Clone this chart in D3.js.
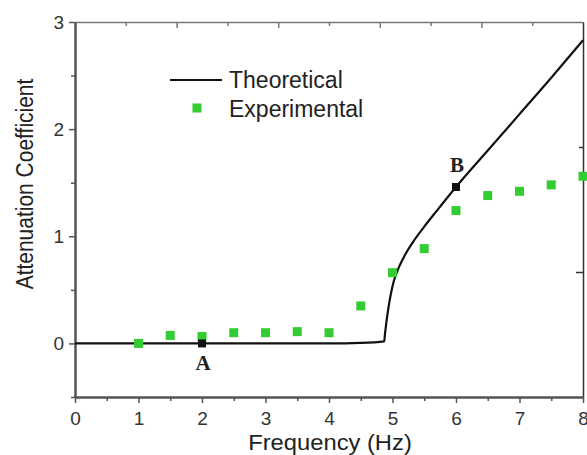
<!DOCTYPE html>
<html>
<head>
<meta charset="utf-8">
<script src="https://cdn.jsdelivr.net/npm/d3@7"></script>
<style>
body { margin: 0; background: #fff; }
</style>
</head>
<body>
<div id="container"></div>
<script>
// experimental points (green squares)
let expFreq = [1, 1.5, 2, 2.5, 3, 3.5, 4, 4.5, 5, 5.5, 6, 6.5, 7, 7.5, 8];
let expAtt  = [0.0, 0.075, 0.065, 0.10, 0.10, 0.11, 0.10, 0.35, 0.66, 0.885, 1.24, 1.38, 1.42, 1.48, 1.56];

// theoretical curve
let theoFreq = [0, 1, 2, 3, 4, 4.5, 4.87, 4.88, 4.9, 4.93, 4.97, 5.02, 5.1, 5.2, 5.35, 5.5, 5.7, 6, 6.5, 7, 7.5, 8];
let theoAtt  = [0, 0, 0, 0, 0, 0.005, 0.02, 0.08, 0.18, 0.31, 0.45, 0.58, 0.71, 0.83, 0.97, 1.09, 1.24, 1.46, 1.80, 2.14, 2.48, 2.83];

// marked points
let markLabels = ["A", "B"];
let markFreq = [2, 6];
let markAtt  = [0, 1.46];

let xTicks = [0, 1, 2, 3, 4, 5, 6, 7, 8];
let xMinor = [0.5, 1.5, 2.5, 3.5, 4.5, 5.5, 6.5, 7.5];
let yTicks = [0, 1, 2, 3];
let yMinor = [-0.5, 0.5, 1.5, 2.5];
let legendLabels = ["Theoretical", "Experimental"];
let xTitle = "Frequency (Hz)";
let yTitle = "Attenuation Coefficient";

let width = 587, height = 455;
let plotL = 75, plotR = 583, plotT = 22, plotB = 397;
let green = "#33cc33";
let sansFont = "Liberation Sans, Arial, sans-serif";

let svg = d3.select("#container").append("svg")
    .attr("width", width)
    .attr("height", height)
    .attr("font-family", sansFont);

let x = d3.scaleLinear().domain([0, 8]).range([plotL, plotR]);
let y = d3.scaleLinear().domain([-0.5, 3]).range([plotB, plotT]);
// unlabeled top / right frame scales
let xTop = d3.scaleLinear().domain([0, 10]).range([plotL, plotR]);
let yRight = d3.scaleLinear().domain([0, 3]).range([plotB, plotT]);

function styleAxis(g, col, w) {
    g.select(".domain").attr("stroke", col).attr("stroke-width", w);
    g.selectAll(".tick line").attr("stroke", col).attr("stroke-width", 1.5);
    g.attr("font-family", sansFont).attr("font-size", 19);
    g.selectAll("text").attr("fill", "#333");
}

// top frame
let gTop = svg.append("g").attr("transform", "translate(0," + plotT + ")")
    .call(d3.axisTop(xTop).tickValues(d3.range(1, 10)).tickSize(-6).tickSizeOuter(0).tickFormat(""));
gTop.selectAll(".tick line").attr("y2", function(d) { return d % 2 == 0 ? 6 : 4; });
styleAxis(gTop, "#777", 1.5);

// right frame
let gRight = svg.append("g").attr("transform", "translate(" + plotR + ",0)")
    .call(d3.axisRight(yRight).tickValues([1, 2]).tickSize(-6).tickSizeOuter(0).tickFormat(""));
gRight.selectAll(".tick line").attr("x2", function(d) { return d == 1 ? -7 : -4; });
styleAxis(gRight, "#333", 1.5);

// bottom axis
let gxMinor = svg.append("g").attr("transform", "translate(0," + plotB + ")")
    .call(d3.axisBottom(x).tickValues(xMinor).tickSize(4).tickSizeOuter(0).tickFormat(""));
styleAxis(gxMinor, "#555", 2);
let gx = svg.append("g").attr("transform", "translate(0," + plotB + ")")
    .call(d3.axisBottom(x).tickValues(xTicks).tickSize(6).tickSizeOuter(0).tickPadding(9).tickFormat(d3.format("d")));
styleAxis(gx, "#555", 2);

// left axis
let gyMinor = svg.append("g").attr("transform", "translate(" + plotL + ",0)")
    .call(d3.axisLeft(y).tickValues(yMinor).tickSize(4).tickSizeOuter(0).tickFormat(""));
styleAxis(gyMinor, "#555", 2);
let gy = svg.append("g").attr("transform", "translate(" + plotL + ",0)")
    .call(d3.axisLeft(y).tickValues(yTicks).tickSize(6).tickSizeOuter(0).tickPadding(5).tickFormat(d3.format("d")));
styleAxis(gy, "#555", 2);

// axis titles
svg.append("text")
    .attr("transform", "translate(330,450) scale(1.08,1)")
    .attr("text-anchor", "middle")
    .attr("font-size", 22)
    .attr("fill", "#222")
    .text(xTitle);
svg.append("text")
    .attr("transform", "translate(33,184) scale(1.15,1) rotate(-90)")
    .attr("text-anchor", "middle")
    .attr("font-size", 21)
    .attr("fill", "#222")
    .text(yTitle);

// theoretical curve
let theo = theoFreq.map(function(f, i) { return [f, theoAtt[i]]; });
let line = d3.line()
    .x(function(d) { return x(d[0]); })
    .y(function(d) { return y(d[1]); })
    .curve(d3.curveMonotoneX);
svg.append("path")
    .datum(theo)
    .attr("d", line)
    .attr("fill", "none")
    .attr("stroke", "#111")
    .attr("stroke-width", 2.2);

// experimental squares
let sq = 9;
svg.append("g").selectAll("rect")
    .data(expFreq)
    .join("rect")
    .attr("x", function(d) { return x(d) - sq / 2; })
    .attr("y", function(d, i) { return y(expAtt[i]) - sq / 2; })
    .attr("width", sq)
    .attr("height", sq)
    .attr("fill", green);

// A / B markers
let mk = 8;
let marks = svg.append("g").selectAll("g")
    .data(markFreq)
    .join("g");
marks.append("rect")
    .attr("x", function(d) { return x(d) - mk / 2; })
    .attr("y", function(d, i) { return y(markAtt[i]) - mk / 2; })
    .attr("width", mk)
    .attr("height", mk)
    .attr("fill", "#111");
marks.append("text")
    .attr("x", function(d) { return x(d) + 1; })
    .attr("y", function(d, i) { return i == 0 ? y(markAtt[i]) + 27 : y(markAtt[i]) - 15; })
    .attr("text-anchor", "middle")
    .attr("font-family", "Liberation Serif, Times New Roman, serif")
    .attr("font-weight", "bold")
    .attr("font-size", 21)
    .attr("fill", "#222")
    .text(function(d, i) { return markLabels[i]; });

// legend
let lg = svg.append("g");
lg.append("line")
    .attr("x1", 170).attr("x2", 222)
    .attr("y1", 80).attr("y2", 80)
    .attr("stroke", "#111")
    .attr("stroke-width", 2.2);
lg.append("rect")
    .attr("x", 197 - sq / 2).attr("y", 108 - sq / 2)
    .attr("width", sq).attr("height", sq)
    .attr("fill", green);
lg.selectAll("text")
    .data(legendLabels)
    .join("text")
    .attr("x", 229)
    .attr("y", function(d, i) { return 88 + i * 29; })
    .attr("font-size", 23)
    .attr("fill", "#222")
    .text(function(d) { return d; });
</script>
</body>
</html>
